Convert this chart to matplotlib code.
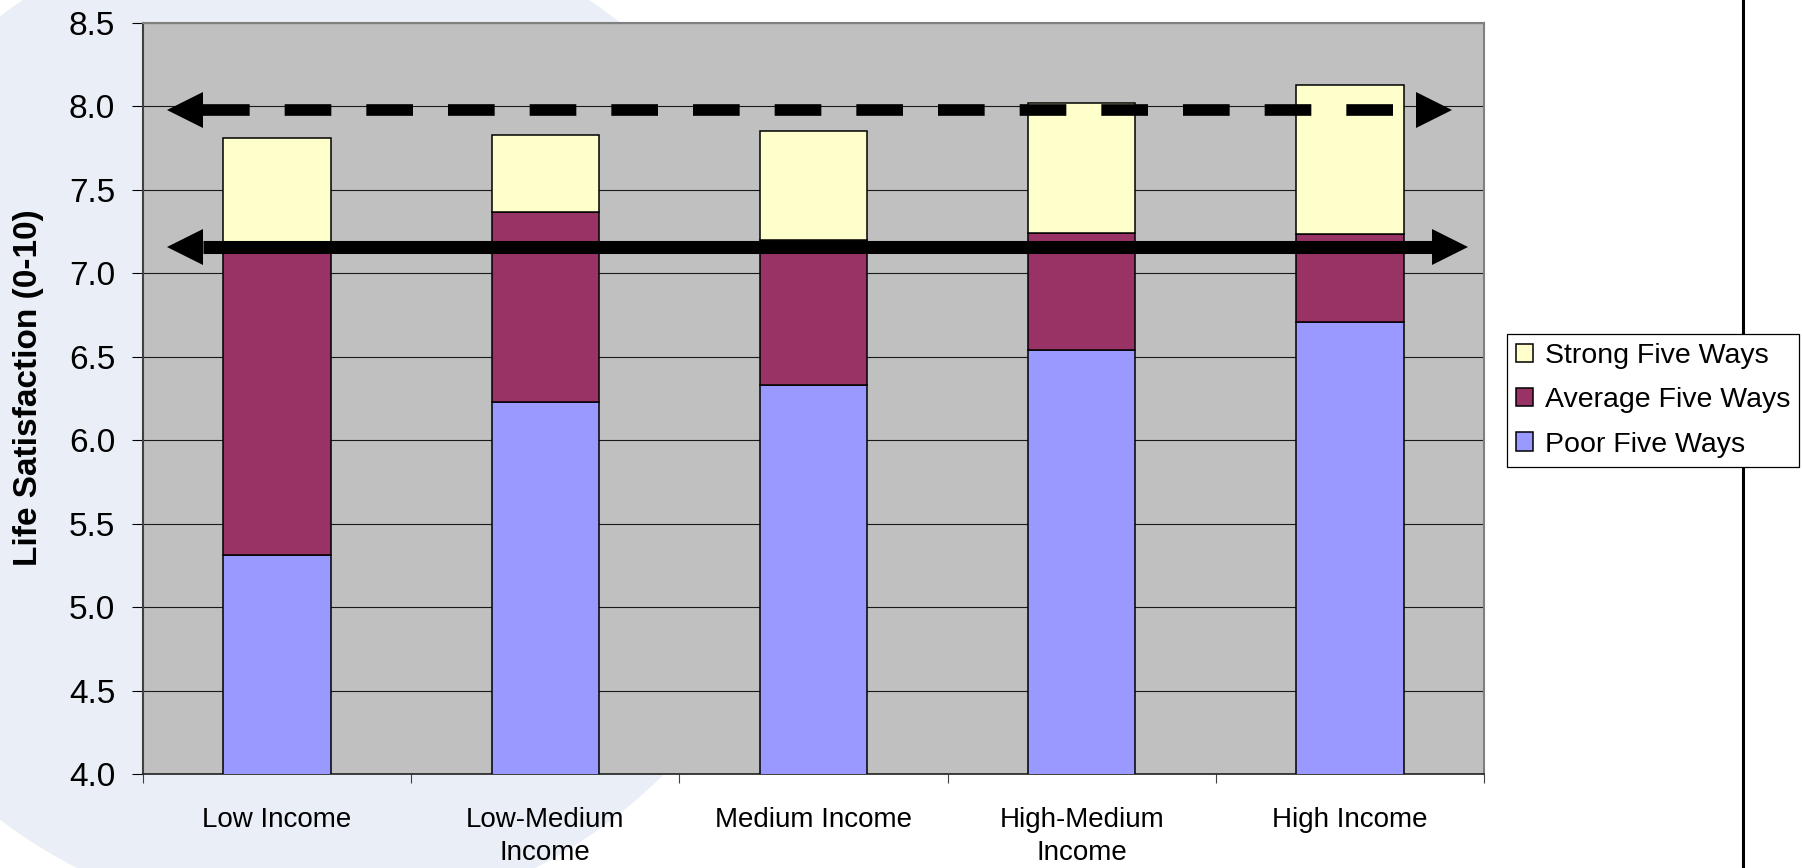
import matplotlib
matplotlib.use("Agg")
import matplotlib.pyplot as plt
from matplotlib.patches import Ellipse
from matplotlib.lines import Line2D
import numpy as np

plt.rcParams['font.family'] = ['Liberation Sans', 'DejaVu Sans']

# ---------------------------------------------------------
# Data: mean life satisfaction per income group
# (cumulative levels of the stacked segments)
# ---------------------------------------------------------
groups = ["Low Income", "Low-Medium\nIncome", "Medium Income",
          "High-Medium\nIncome", "High Income"]
poor_ls = [5.31, 6.23, 6.33, 6.54, 6.71]
average_ls = [7.19, 7.37, 7.20, 7.24, 7.235]
strong_ls = [7.81, 7.83, 7.85, 8.02, 8.13]

# reference levels drawn as double arrows
strong_ref = 7.98
overall_ref = 7.16

series_names = ["Strong Five Ways", "Average Five Ways", "Poor Five Ways"]
colors = {"poor": "#9999FF", "average": "#993366", "strong": "#FFFFCC"}

W, H = 1802, 868
fig = plt.figure(figsize=(W / 100, H / 100), dpi=100)
fig.patch.set_facecolor("white")

# slide background shape and divider line
fig.add_artist(Ellipse((306 / W, 1 - 418 / H), 2 * 505 / W, 2 * 505 / H,
                       transform=fig.transFigure, facecolor="#EAEFF7",
                       edgecolor="none", zorder=-2))
fig.add_artist(Line2D([1743 / W, 1743 / W], [0, 1], transform=fig.transFigure,
                      color="black", lw=2.2, zorder=-1))

ax = fig.add_axes([143 / W, 1 - 774 / H, (1484 - 143) / W, (774 - 23) / H])
ax.set_facecolor("#C0C0C0")

x = np.arange(len(groups))
poor = np.array(poor_ls)
avg = np.array(average_ls)
strong = np.array(strong_ls)

bw = 0.4
b_poor = ax.bar(x, poor, bw, color=colors["poor"], edgecolor="black", lw=1.1, zorder=3)
b_avg = ax.bar(x, avg - poor, bw, bottom=poor, color=colors["average"],
               edgecolor="black", lw=1.1, zorder=3)
b_str = ax.bar(x, strong - avg, bw, bottom=avg, color=colors["strong"],
               edgecolor="black", lw=1.1, zorder=3)

ax.set_xlim(-0.5, len(groups) - 0.5)
ax.set_ylim(4.0, 8.5)
ax.set_yticks(np.arange(4.0, 8.51, 0.5))
ax.set_yticklabels([f"{v:.1f}" for v in np.arange(4.0, 8.51, 0.5)])
ax.yaxis.grid(True, color="#1a1a1a", lw=0.8, zorder=1)
ax.set_axisbelow(True)

# category labels on minor ticks, tick marks on the boundaries
ax.set_xticks(np.arange(-0.5, len(groups), 1.0))
ax.set_xticklabels([])
ax.set_xticks(x, minor=True)
ax.set_xticklabels(groups, minor=True, fontsize=20, linespacing=1.35)
ax.tick_params(axis="x", which="major", length=6.5, width=0.8, color="#404040", direction="out")
ax.tick_params(axis="x", which="minor", length=0, pad=24)
ax.tick_params(axis="y", length=8, width=0.8, direction="out", labelsize=24, pad=12)

ax.spines["left"].set_color("#404040")
ax.spines["left"].set_linewidth(1.5)
ax.spines["bottom"].set_color("#202020")
ax.spines["bottom"].set_linewidth(1.2)
for s in ("top", "right"):
    ax.spines[s].set_color("#808080")
    ax.spines[s].set_linewidth(1.5)

# double arrows across the chart
px_per_unit = (1484 - 143) / len(groups)
head = 35 / px_per_unit


def double_arrow(y, left_tip, right_tip, lw, ls):
    line_kw = dict(color="black", lw=lw, solid_capstyle="butt",
                   dash_capstyle="butt", zorder=5)
    if ls == "dashed":
        ax.plot([left_tip + head, right_tip - head], [y, y],
                dashes=(4.0, 3.0), **line_kw)
    else:
        ax.plot([left_tip + head, right_tip - head], [y, y], **line_kw)
    ax.plot([left_tip + head / 2], [y], marker="<", markersize=25.5,
            color="black", mew=0, zorder=6)
    ax.plot([right_tip - head / 2], [y], marker=">", markersize=25.5,
            color="black", mew=0, zorder=6)


double_arrow(strong_ref, -0.407, 4.38, 8.4, "dashed")
double_arrow(overall_ref, -0.407, 4.437, 9.4, "solid")

fig.text(29 / W, 1 - 388 / H, "Life Satisfaction (0-10)", rotation=90,
         ha="center", va="center", fontsize=24, fontweight="bold")

leg = fig.legend([b_str, b_avg, b_poor], series_names, loc="upper left",
                 bbox_to_anchor=(1507 / W, 1 - 334 / H),
                 bbox_transform=fig.transFigure, fontsize=20.5,
                 handlelength=0.6, handleheight=0.6, handletextpad=0.4,
                 labelspacing=0.64, borderpad=0.32, borderaxespad=0,
                 fancybox=False, framealpha=1, edgecolor="black")
leg.get_frame().set_linewidth(0.9)

fig.savefig("out.png", dpi=100)
